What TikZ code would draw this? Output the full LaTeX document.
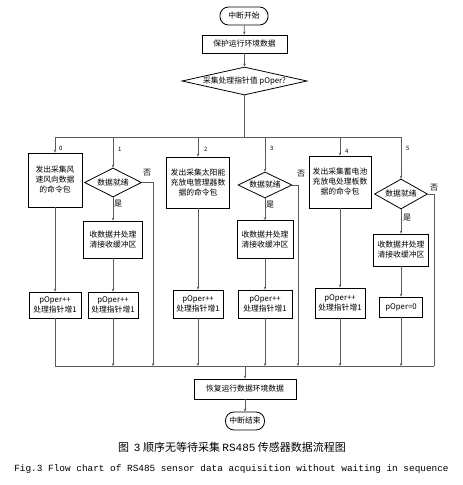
\documentclass[tikz,border=0pt]{standalone}
\usepackage{fontspec}
\setmainfont{Noto Sans CJK SC}
\newfontfamily\capmono{Liberation Mono}
\usepackage{tikz}
\usetikzlibrary{shapes.geometric,arrows.meta,positioning,calc}
\definecolor{flowgray}{RGB}{90,90,90}

\begin{document}
\begin{tikzpicture}[x=1pt,y=-1pt,
    box/.style={draw, thick, inner sep=1pt, align=center, font=\fontsize{7.8}{10}\selectfont},
    term/.style={box, rounded corners=8.5pt},
    ask/.style={draw, thick, diamond, inner sep=0pt, align=center, font=\fontsize{7.8}{10}\selectfont},
    conn/.style={draw=flowgray, line width=0.8pt},
    arr/.style={conn, -{Stealth[length=3pt,width=2.6pt]}},
    tag/.style={font=\fontsize{6}{7}\selectfont, inner sep=0pt},
    yn/.style={font=\fontsize{8}{9}\selectfont, inner sep=0pt}]
    \useasboundingbox (0,0) rectangle (463,485);
    % top part
    \node[term, minimum width=48pt, minimum height=18pt] (start) at (244,16) {中断开始};
    \node[box, minimum width=85pt, minimum height=18pt] (save) at (244.5,44) {保护运行环境数据};
    \node[ask, aspect=4.4, minimum width=125pt, minimum height=28pt] (pick) at (244.5,81) {采集处理指针值 pOper?};
    \draw[arr] (start) -- (save);
    \draw[arr] (save) -- (pick);
    % branch bus
    \coordinate (busT) at (244.5,137);
    \coordinate (busL) at (55,137);
    \coordinate (busR) at (401,137);
    \draw[conn] (pick.south) -- (busT);
    \draw[conn] (busL) -- (busR);
    % branch 0
    \node[box, minimum width=54pt, minimum height=54pt] (cmd0) at (55,180) {发出采集风\\速风向数据\\的命令包};
    \node[box, minimum width=52pt, minimum height=26pt] (inc0) at (55,305) {pOper++\\处理指针增1};
    % branch 1
    \node[ask, aspect=2, minimum width=57pt, minimum height=29pt] (ask1) at (113,182.5) {数据就绪};
    \node[box, minimum width=59pt, minimum height=37pt] (recv1) at (113,239.5) {收数据并处理\\清接收缓冲区};
    \node[box, minimum width=50pt, minimum height=26pt] (inc1) at (113,305) {pOper++\\处理指针增1};
    % branch 2
    \node[box, minimum width=63pt, minimum height=51pt] (cmd2) at (198,182.5) {发出采集太阳能\\充放电管理器数\\据的命令包};
    \node[box, minimum width=50pt, minimum height=28pt] (inc2) at (198,304) {pOper++\\处理指针增1};
    % branch 3
    \node[ask, aspect=2, minimum width=54pt, minimum height=26pt] (ask3) at (265,185) {数据就绪};
    \node[box, minimum width=56pt, minimum height=38pt] (recv3) at (265,239.5) {收数据并处理\\清接收缓冲区};
    \node[box, minimum width=54pt, minimum height=28pt] (inc3) at (265,304) {pOper++\\处理指针增1};
    % branch 4
    \node[box, minimum width=62pt, minimum height=52pt] (cmd4) at (340,182) {发出采集蓄电池\\充放电处理板数\\据的命令包};
    \node[box, minimum width=50pt, minimum height=30pt] (inc4) at (340,303) {pOper++\\处理指针增1};
    % branch 5
    \node[ask, aspect=2, minimum width=53pt, minimum height=30pt] (ask5) at (401,194) {数据就绪};
    \node[box, minimum width=55pt, minimum height=32pt] (recv5) at (401,250) {收数据并处理\\清接收缓冲区};
    \node[box, minimum width=43pt, minimum height=20pt] (reset5) at (401,307) {pOper=0};
    % drops from bus
    \draw[arr] (cmd0.north |- busT) -- (cmd0);
    \draw[arr] (ask1.north |- busT) -- (ask1);
    \draw[arr] (cmd2.north |- busT) -- (cmd2);
    \draw[arr] (ask3.north |- busT) -- (ask3);
    \draw[arr] (cmd4.north |- busT) -- (cmd4);
    \draw[arr] (ask5.north |- busT) -- (ask5);
    \node[tag, anchor=west] at (59,148) {0};
    \node[tag, anchor=west] at (118,149) {1};
    \node[tag, anchor=west] at (204,149) {2};
    \node[tag, anchor=west] at (270,148) {3};
    \node[tag, anchor=west] at (345,151) {4};
    \node[tag, anchor=west] at (406,148) {5};
    % inside branches
    \draw[arr] (cmd0) -- (inc0);
    \draw[arr] (ask1) -- (recv1);
    \draw[arr] (recv1) -- (inc1);
    \draw[arr] (cmd2) -- (inc2);
    \draw[arr] (ask3) -- (recv3);
    \draw[arr] (recv3) -- (inc3);
    \draw[arr] (cmd4) -- (inc4);
    \draw[arr] (ask5) -- (recv5);
    \draw[arr] (recv5) -- (reset5);
    \node[yn] at (118,204) {是};
    \node[yn] at (270,205) {是};
    \node[yn] at (407,218) {是};
    % merge bus
    \coordinate (mrgL) at (55,366);
    \coordinate (mrgR) at (434,366);
    \coordinate (no1) at (153,366);
    \coordinate (no3) at (298,366);
    \draw[conn] (inc0) |- (mrgR);
    \draw[conn] (ask5.east) -| (mrgR);
    \draw[arr] (ask1.east) -| (no1);
    \draw[arr] (ask3.east) -| (no3);
    \node[yn] at (147,173) {否};
    \node[yn] at (301,174) {否};
    \node[yn] at (434,188) {否};
    \draw[arr] (inc1) -- (inc1 |- mrgR);
    \draw[arr] (inc2) -- (inc2 |- mrgR);
    \draw[arr] (inc3) -- (inc3 |- mrgR);
    \draw[arr] (inc4) -- (inc4 |- mrgR);
    \draw[arr] (reset5) -- (reset5 |- mrgR);
    % bottom part
    \node[box, minimum width=102pt, minimum height=20pt] (restore) at (245,389) {恢复运行数据环境数据};
    \node[term, minimum width=39pt, minimum height=18pt] (stop) at (245,421) {中断结束};
    \draw[arr] (restore |- mrgR) -- (restore);
    \draw[arr] (restore) -- (stop);
    % captions
    \node[font=\fontsize{11}{13}\selectfont] (cap) at (232,447) {图\ \ {\capmono 3} 顺序无等待采集 {\capmono RS485} 传感器数据流程图};
    \node[font=\capmono\fontsize{9.4}{11}\selectfont] (capen) at (231.5,469) {Fig.3 Flow chart of RS485 sensor data acquisition without waiting in sequence};
\end{tikzpicture}
\end{document}
